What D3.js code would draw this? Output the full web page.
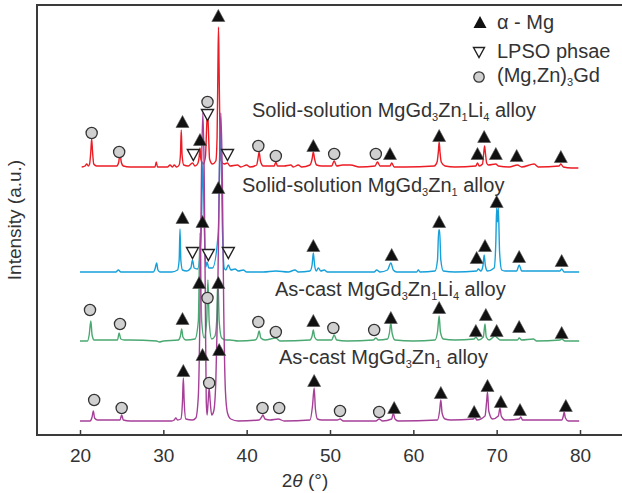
<!DOCTYPE html>
<html>
<head>
<meta charset="utf-8">
<script src="https://cdn.jsdelivr.net/npm/d3@7"></script>
<style>
  body { margin: 0; background: #fff; }
  text { font-family: "Liberation Sans", Arial, Helvetica, sans-serif; fill: #333; white-space: pre; }
</style>
</head>
<body>
<div id="chart"></div>
<script>
// x ticks
var xTicks = [20, 30, 40, 50, 60, 70, 80];

// traces: [2theta, intensity above its own baseline]
var redTrace = [[20.2,0],[20.6,1],[20.8,3],[21.0,1],[21.15,3],[21.3,16],[21.4,28],[21.5,16],[21.65,3],[22,1],[23,1],[24.4,1],[24.65,5],[24.8,14],[24.95,5],[25.2,1],[26,0],[29.0,0],[29.15,5],[29.3,0],[30.5,0],[30.8,2],[31.1,0],[31.3,2],[31.6,0],[31.9,2],[32.05,12],[32.15,37],[32.25,12],[32.45,2],[33.0,1],[33.5,4],[33.8,1],[34.1,3],[34.3,10],[34.4,19],[34.5,8],[34.8,3],[35.05,10],[35.2,40],[35.3,57],[35.4,40],[35.55,8],[35.9,3],[36.3,6],[36.45,30],[36.55,100],[36.62,140],[36.69,100],[36.8,30],[36.95,6],[37.3,3],[37.7,4],[38.0,1],[38.9,2],[39.3,0],[40.0,2],[40.4,0],[41.2,2],[41.35,8],[41.5,15],[41.65,6],[42,1],[43.3,1],[43.5,5],[43.7,1],[44.5,1],[45.3,2],[45.6,0],[46.2,2],[46.6,0],[47.6,2],[47.85,8],[48.0,15],[48.15,8],[48.4,2],[49,1],[50.2,1],[50.5,6],[50.8,1],[51.5,2],[52.5,2],[53.5,0],[55.4,1],[55.7,5],[56.0,1],[57.2,1],[57.4,4],[57.7,0],[59,0],[62.5,1],[62.85,5],[63.0,15],[63.1,25],[63.2,15],[63.35,5],[63.8,1],[65,0],[67.5,1],[67.7,4],[67.9,1],[68.3,3],[68.45,14],[68.55,21],[68.65,14],[68.8,4],[69.0,2],[69.9,3],[70.2,1],[71.5,0],[72.5,2],[73,0],[74.5,3],[75,0],[77.5,1],[77.7,3],[78,0],[79,-1],[79.8,-1]];

var blueTrace = [[20,0],[22,0],[24.3,0],[24.6,2],[24.9,0],[26,0],[28.8,0],[29.0,3],[29.2,9],[29.35,2],[29.6,0],[31,0],[31.7,2],[31.9,12],[32.0,43],[32.1,12],[32.3,2],[32.8,1],[33.3,4],[33.5,12],[33.7,4],[34.1,3],[34.55,40],[34.74,110],[34.93,40],[35.1,5],[35.25,10],[35.45,4],[35.9,4],[36.6,40],[36.85,150],[37.1,40],[37.3,4],[37.5,2],[37.8,7],[38.1,2],[38.6,3],[39,1],[39.6,2],[40,0],[42,0],[43.5,1],[45,0],[45.8,2],[46.2,0],[47.6,1],[47.85,7],[48.0,19],[48.15,7],[48.35,1],[48.6,4],[48.9,1],[49.3,2],[49.7,0],[52,0],[55.3,0],[55.6,2],[56,0],[56.9,2],[57.3,9],[57.6,2],[58,0],[60.4,0],[60.6,2],[60.8,0],[62.6,1],[62.9,12],[63.05,42],[63.15,42],[63.3,12],[63.6,1],[65,0],[67.6,1],[67.8,3],[68.1,1],[68.35,6],[68.5,17],[68.65,6],[68.9,1],[69.7,4],[69.9,30],[70.0,64],[70.1,50],[70.2,64],[70.35,20],[70.6,2],[71,1],[72.4,1],[72.7,7],[73,1],[74.5,1],[77.6,1],[77.8,3],[78.1,0],[79.9,0]];

var greenTrace = [[20,0],[20.9,0],[21.1,6],[21.3,20],[21.45,6],[21.7,1],[22.5,1],[24.5,1],[24.7,8],[24.9,2],[25.3,1],[26,1],[29.2,0],[29.5,-1],[30,0],[31.8,1],[32.05,5],[32.2,12],[32.35,4],[32.7,1],[33.8,2],[34.2,20],[34.4,108],[34.6,20],[34.9,3],[35.2,20],[35.35,61],[35.5,20],[35.8,2],[36.2,5],[36.4,20],[36.55,63],[36.7,20],[37.0,3],[37.5,1],[38,1],[39,0],[41,1],[41.3,4],[41.5,10],[41.7,3],[42.2,1],[43.5,3],[44,0],[47.6,1],[47.85,5],[48.0,11],[48.15,4],[48.5,1],[50.2,1],[50.5,6],[50.8,1],[52,0],[55.2,1],[55.5,3],[55.8,1],[56.9,2],[57.15,9],[57.3,18],[57.45,8],[57.8,1],[60,0],[62.6,1],[62.9,9],[63.1,25],[63.25,9],[63.6,2],[65,1],[67.3,2],[67.5,4],[67.8,1],[68.4,4],[68.6,17],[68.75,4],[69.1,1],[69.8,5],[70.1,3],[70.4,1],[72.5,1],[72.7,3],[73,1],[74.4,2],[74.8,0],[77.6,1],[77.8,2],[78.2,0],[79.9,0]];

var purpleTrace = [[20,0],[21.2,0],[21.45,4],[21.6,10],[21.75,3],[22.1,1],[23,1],[24.8,1],[25.0,6],[25.2,1],[26,0],[31,0],[31.3,1],[31.5,3],[31.7,1],[32.1,2],[32.3,20],[32.4,43],[32.5,20],[32.7,2],[33.5,1],[33.9,3],[34.2,25],[34.4,110],[34.58,250],[34.74,308],[34.9,250],[35.05,110],[35.15,20],[35.25,6],[35.38,20],[35.5,33],[35.62,20],[35.8,6],[36.05,10],[36.3,40],[36.5,110],[36.73,250],[36.9,308],[37.07,250],[37.25,110],[37.45,30],[37.7,8],[38.1,2],[39,0],[41.5,1],[41.8,4],[41.95,6],[42.2,2],[42.8,1],[43.8,2],[44.5,0],[47.6,1],[47.9,15],[48.1,33],[48.25,12],[48.5,2],[49,1],[50.9,1],[51.2,2],[51.6,0],[55.5,0],[55.9,2],[56.3,0],[57.4,2],[57.6,8],[57.8,2],[58.2,0],[62.9,1],[63.15,10],[63.3,21],[63.45,8],[63.8,2],[64.5,1],[67.2,2],[67.4,4],[67.6,1],[68.6,5],[68.8,20],[68.9,29],[69.05,10],[69.5,2],[70.2,5],[70.4,13],[70.55,5],[71,1],[72.7,2],[72.9,4],[73.1,1],[74,1],[77.8,1],[78.0,5],[78.1,9],[78.25,3],[78.6,0],[79.9,0]];

// baseline offsets (a.u.)
var offsets = {red: 268, blue: 163, green: 94, purple: 14};

// phase markers [2theta, absolute intensity]
var redUp = [[32.3,313],[34.4,295],[36.6,419],[48.0,289],[57.2,281],[63.1,299],[67.7,281],[68.5,298],[69.9,281],[72.4,279],[77.7,278]];
var redDown = [[33.6,280],[35.3,320],[37.7,280]];
var redCircle = [[21.4,302],[24.7,283],[35.3,333],[41.4,289],[43.5,279],[50.5,281],[55.5,281]];

var blueUp = [[32.3,217],[34.7,213],[36.6,247],[48.0,189],[57.4,180],[63.1,213],[67.6,177],[68.6,189],[70.0,233],[72.7,178],[77.8,174]];
var blueDown = [[33.5,182],[35.4,180],[37.8,182]];

var greenUp = [[32.3,116],[34.3,152],[36.6,152],[48.0,114],[57.3,117],[63.1,127],[67.5,104],[68.7,120],[70.0,104],[72.7,108],[77.8,102]];
var greenCircle = [[21.2,125],[24.8,111],[35.3,137],[41.4,113],[43.5,103],[50.4,107],[55.3,105]];

var purpleUp = [[32.4,64],[34.7,80],[36.7,85],[48.1,54],[57.7,27],[63.3,42],[67.3,23],[68.9,49],[70.5,33],[72.8,25],[78.3,29]];
var purpleCircle = [[21.7,35],[25.0,27],[35.5,52],[41.9,27],[43.9,27],[51.2,24],[55.9,23]];

// labels, odd entries are subscripts
var labelRed = ['Solid-solution MgGd', '3', 'Zn', '1', 'Li', '4', ' alloy'];
var labelBlue = ['Solid-solution MgGd', '3', 'Zn', '1', ' alloy'];
var labelGreen = ['As-cast MgGd', '3', 'Zn', '1', 'Li', '4', ' alloy'];
var labelPurple = ['As-cast MgGd', '3', 'Zn', '1', ' alloy'];
var legendLabels = [['\u03b1 - Mg'], ['LPSO phsae'], ['(Mg,Zn)', '3', 'Gd']];

var width = 622, height = 493;

var svg = d3.select('#chart').append('svg')
    .attr('width', width)
    .attr('height', height);

var x = d3.scaleLinear().domain([20, 80]).range([80, 580]);
var y = d3.scaleLinear().domain([0, 430]).range([435, 5]);

//frame (right edge runs off the picture)
svg.append('rect')
    .attr('x', x(14.84))
    .attr('y', y(430))
    .attr('width', 640 - x(14.84))
    .attr('height', y(0) - y(430))
    .attr('fill', 'none')
    .attr('stroke', '#3a3a3a')
    .attr('stroke-width', 2);

//x axis, ticks pointing in
var xAxis = svg.append('g')
    .attr('transform', 'translate(0,' + y(0) + ')')
    .call(d3.axisBottom(x).tickValues(xTicks).tickSizeInner(-5).tickSizeOuter(0).tickPadding(14));
xAxis.select('.domain').remove();
xAxis.selectAll('line').attr('stroke', '#3a3a3a').attr('stroke-width', 1.5);
xAxis.selectAll('text')
    .style('font-size', '19px')
    .style('font-family', '"Liberation Sans", Arial, sans-serif')
    .attr('fill', '#333');

//axis titles
var xt = svg.append('text')
    .attr('x', 305)
    .attr('y', 487)
    .attr('text-anchor', 'middle')
    .style('font-size', '19px');
xt.append('tspan').text('2');
xt.append('tspan').style('font-style', 'italic').text('\u03b8');
xt.append('tspan').text(' (\u00b0)');

svg.append('text')
    .attr('transform', 'translate(21,220) rotate(-90)')
    .attr('text-anchor', 'middle')
    .style('font-size', '19px')
    .text('Intensity (a.u.)');

//traces
function drawTrace(data, off, color) {
  var line = d3.line()
      .x(function(d) { return x(d[0]); })
      .y(function(d) { return y(off + d[1]); })
      .curve(d3.curveMonotoneX);
  svg.append('path')
      .datum(data)
      .attr('d', line)
      .attr('fill', 'none')
      .attr('stroke', color)
      .attr('stroke-width', 1.4)
      .attr('stroke-linejoin', 'round');
}

drawTrace(redTrace, offsets.red, '#ec1c24');
drawTrace(blueTrace, offsets.blue, '#16a0d9');
drawTrace(greenTrace, offsets.green, '#4aa871');
drawTrace(purpleTrace, offsets.purple, '#a53f98');

//markers
var upPath = 'M0,-6.5L6.5,5.5L-6.5,5.5Z',
    downPath = 'M-6,-5.5L6,-5.5L0,5.5Z';

function drawUp(data) {
  svg.selectAll(null).data(data).enter().append('path')
      .attr('d', upPath)
      .attr('transform', function(d) { return 'translate(' + x(d[0]) + ',' + y(d[1]) + ')'; })
      .attr('fill', '#111')
      .attr('stroke', '#555')
      .attr('stroke-width', 0.6);
}
function drawDown(data) {
  svg.selectAll(null).data(data).enter().append('path')
      .attr('d', downPath)
      .attr('transform', function(d) { return 'translate(' + x(d[0]) + ',' + y(d[1]) + ')'; })
      .attr('fill', '#fff')
      .attr('stroke', '#222')
      .attr('stroke-width', 1.4);
}
function drawCircle(data) {
  svg.selectAll(null).data(data).enter().append('circle')
      .attr('cx', function(d) { return x(d[0]); })
      .attr('cy', function(d) { return y(d[1]); })
      .attr('r', 5.6)
      .attr('fill', '#d0d0d0')
      .attr('stroke', '#333')
      .attr('stroke-width', 1.3);
}

drawUp(redUp); drawDown(redDown); drawCircle(redCircle);
drawUp(blueUp); drawDown(blueDown);
drawUp(greenUp); drawCircle(greenCircle);
drawUp(purpleUp); drawCircle(purpleCircle);

//text with subscripts
function richText(parts, px, py, size) {
  var t = svg.append('text')
      .attr('x', px)
      .attr('y', py)
      .style('font-size', size + 'px');
  parts.forEach(function(s, i) {
    var sp = t.append('tspan').text(s);
    if (i % 2 === 1) {
      sp.style('font-size', '11px').attr('dy', 4);
    } else if (i > 0) {
      sp.attr('dy', -4);
    }
  });
  return t;
}

richText(labelRed, 252, 117, 20);
richText(labelBlue, 242, 192, 20);
richText(labelGreen, 275, 295.5, 20);
richText(labelPurple, 279, 363.5, 20);

//legend
var legendY = [22.5, 52.5, 77];
svg.append('path').attr('d', upPath)
    .attr('transform', 'translate(480,' + legendY[0] + ')')
    .attr('fill', '#111');
svg.append('path').attr('d', 'M-5.5,-5L5.5,-5L0,5Z')
    .attr('transform', 'translate(479,' + legendY[1] + ')')
    .attr('fill', '#fff').attr('stroke', '#222').attr('stroke-width', 1.4);
svg.append('circle').attr('cx', 479).attr('cy', legendY[2]).attr('r', 5.2)
    .attr('fill', '#d0d0d0').attr('stroke', '#333').attr('stroke-width', 1.3);

richText(legendLabels[0], 497, 28.5, 20);
richText(legendLabels[1], 497, 57.5, 20);
richText(legendLabels[2], 497, 82, 20);
</script>
</body>
</html>
